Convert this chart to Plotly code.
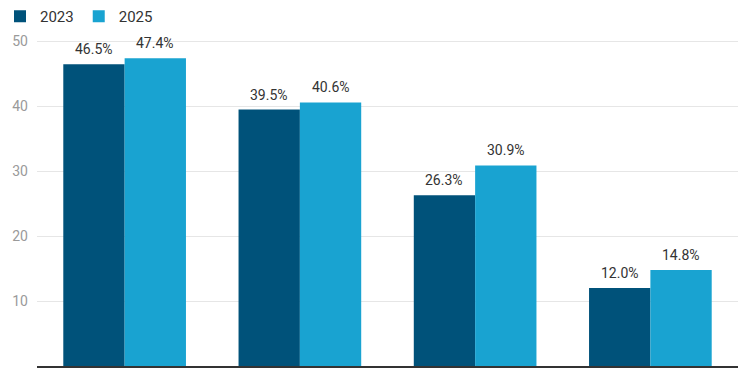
import plotly.graph_objects as go

categories = ["Category A", "Category B", "Category C", "Category D"]
series_names = ["2023", "2025"]
values_2023 = [46.5, 39.5, 26.3, 12.0]
values_2025 = [47.4, 40.6, 30.9, 14.8]
colors = ["#00527A", "#19A3D1"]
y_ticks = [10, 20, 30, 40, 50]

bargap = 0.3
series = [values_2023, values_2025]
n = len(series)
bar_w = (1 - bargap) / n

fig = go.Figure()
for name, vals, col in zip(series_names, series, colors):
    fig.add_trace(go.Bar(
        x=categories, y=vals, name=name, marker_color=col,
        marker_line_width=0, hoverinfo="x+y+name",
    ))

annotations = []
for s, vals in enumerate(series):
    off = -(1 - bargap) / 2 + bar_w * (s + 0.5)
    for i, v in enumerate(vals):
        annotations.append(dict(
            x=i + off, y=v, xref="x", yref="y", text=f"{v:.1f}%",
            showarrow=False, yanchor="bottom", yshift=5,
            font=dict(size=14, color="#333333", family="Roboto"),
        ))

fig.update_layout(
    width=750, height=375,
    margin=dict(l=37, r=12, t=8.5, b=9, autoexpand=False),
    paper_bgcolor="white", plot_bgcolor="white",
    barmode="group", bargap=bargap, bargroupgap=0,
    font=dict(family="Roboto", size=14, color="#333333"),
    showlegend=True,
    annotations=annotations,
    legend=dict(orientation="h", xref="container", yref="container",
                x=0.0, y=1.0, xanchor="left", yanchor="top",
                font=dict(size=15, color="#333333"),
                bgcolor="rgba(0,0,0,0)",
                itemwidth=30, traceorder="normal"),
    xaxis=dict(showticklabels=False, showline=True, linecolor="#333333",
               linewidth=2, ticks="", showgrid=False),
    yaxis=dict(range=[0, 55], tickvals=y_ticks, showgrid=True,
               gridcolor="#e6e6e6", gridwidth=1, zeroline=False,
               showticklabels=True, tickfont=dict(size=14, color="#9a9a9a"),
               ticks="", ticklabelstandoff=8, showline=False),
)
fig.write_html("out.html")
